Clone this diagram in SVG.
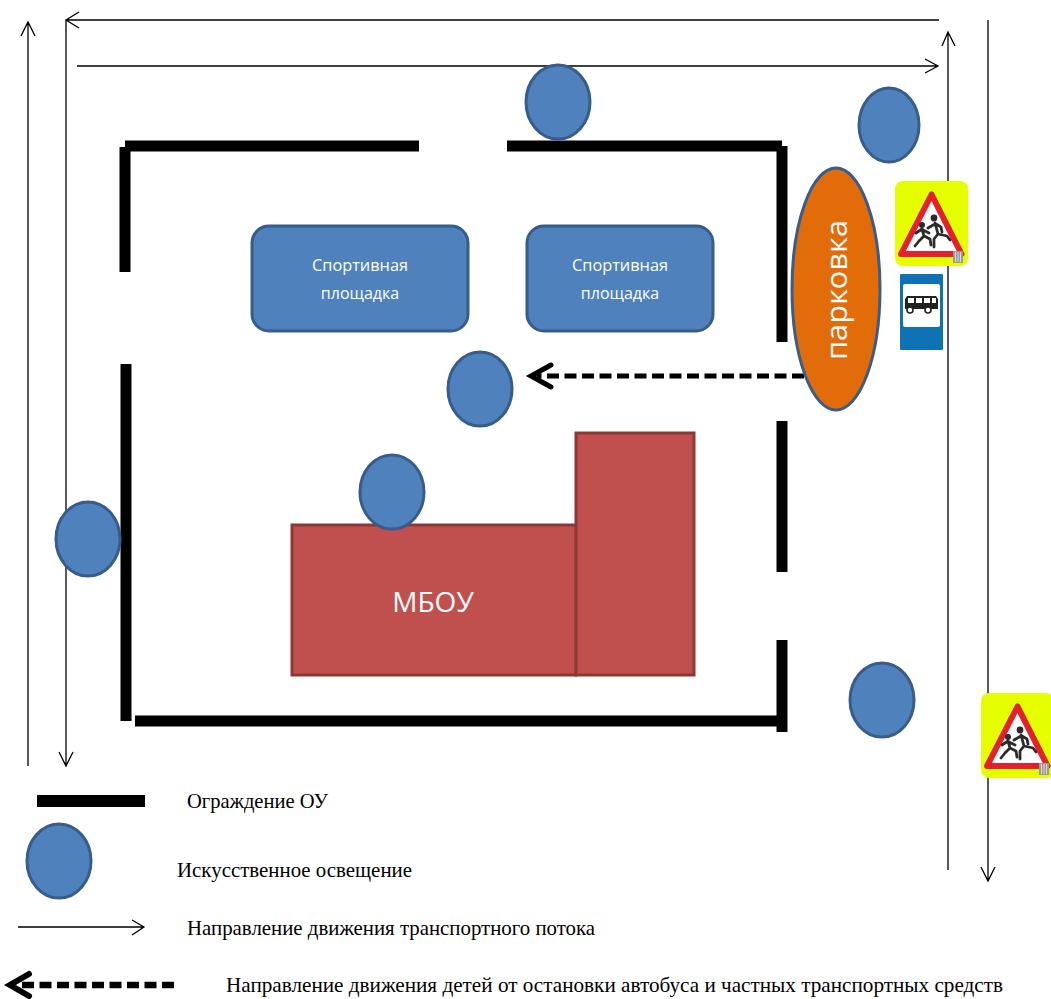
<svg xmlns="http://www.w3.org/2000/svg" width="1051" height="999" viewBox="0 0 1051 999">
<style>
.fence{stroke:#000;stroke-width:11;fill:none}
.lamp{fill:#4f81bd;stroke:#385d8a;stroke-width:3}
.road{stroke:#000;stroke-width:1.3;fill:none}
.dash{stroke:#000;stroke-width:5;fill:none;stroke-dasharray:12 5.5}
.dhead{stroke:#000;stroke-width:5;fill:none;stroke-linecap:round;stroke-linejoin:miter}
.court{fill:#4f81bd;stroke:#385d8a;stroke-width:3}
.bld{fill:#c0504d;stroke:#8c3836;stroke-width:3}
.wt{font-family:"Open Sans","Noto Sans",sans-serif;fill:#fff;text-anchor:middle}
.lg{font-family:"Liberation Serif",serif;font-size:21px;fill:#000}
.yl{fill:#e5ff00}
.tri{fill:#fff;stroke:#e3202c;stroke-linejoin:round;stroke-width:6}
.fig{fill:#2b2b2b}
.figl{stroke:#2b2b2b;stroke-width:2.800;fill:none;stroke-linecap:round;stroke-linejoin:round}
</style>
<defs>
<g id="runner">
<rect class="yl" x="0" y="0" width="73" height="85" rx="8"/>
<path class="tri" d="M36.500 13.500 L66.500 73 H6 Z"/>
<circle class="fig" cx="39" cy="37" r="3.400"/>
<circle class="fig" cx="27" cy="44" r="3"/>
<path class="figl" d="M40 42 L43 53 L52 55 L55 59 M43 53 L39 58 L39 66 M40 43 L33 47 M41 43 L46 46 L47 51"/>
<path class="figl" d="M27 48 L29 55 L35 58 L36 64 M29 55 L24 60 L20 65 M27 48 L21 52 M28 49 L34 52"/>
<rect x="58" y="70" width="10" height="12" fill="#9a9a9a"/>
<path d="M60.500 71V81M63 71V81M65.500 71V81" stroke="#eee" stroke-width="0.800"/>
</g>
</defs>

<g id="connectors">
<path class="road" d="M28 766V22M21 36L28 22L35 36"/>
<path class="road" d="M939 20H66V766M79 12L66 20L79 28M59 752L66 766L73 752"/>
<path class="road" d="M77 66H938M925 59L938 66L925 73"/>
<path class="road" d="M948 870V32M942 46L948 32L955 46"/>
<path class="road" d="M988 20V881M981 867L988 881L995 867"/>
<path class="dash" d="M804 376H537"/>
<path class="dhead" d="M551 365L531 376L551 387"/>
</g>

<g id="fence">
<path class="fence" d="M125 146H419"/>
<path class="fence" d="M507 146H782"/>
<path class="fence" d="M125 147V272"/>
<path class="fence" d="M126 364V721"/>
<path class="fence" d="M135 721H782"/>
<path class="fence" d="M782 146V342"/>
<path class="fence" d="M782 421V572"/>
<path class="fence" d="M782 640V732"/>
</g>

<g id="court1"><rect class="court" x="252" y="226" width="216" height="105" rx="17"/>
<text class="wt" font-size="16" x="360" y="271" textLength="96" lengthAdjust="spacingAndGlyphs">Спортивная</text><text class="wt" font-size="16" x="360" y="299">площадка</text></g>
<g id="court2"><rect class="court" x="527" y="226" width="186" height="105" rx="17"/>
<text class="wt" font-size="16" x="620" y="271" textLength="96" lengthAdjust="spacingAndGlyphs">Спортивная</text><text class="wt" font-size="16" x="620" y="299">площадка</text></g>

<g id="school">
<rect class="bld" x="292" y="525" width="284" height="150"/>
<rect class="bld" x="576" y="433" width="118" height="242"/>
<text class="wt" font-size="28" x="433" y="612">МБОУ</text>
</g>

<g id="parking"><ellipse cx="836" cy="289" rx="44" ry="121" fill="#e36c0a" stroke="#385d8a" stroke-width="3"/>
<text class="wt" font-size="29" textLength="140" lengthAdjust="spacingAndGlyphs" transform="translate(847 290) rotate(-90)">парковка</text></g>

<g id="lamps">
<ellipse class="lamp" cx="558" cy="102" rx="32" ry="37"/>
<ellipse class="lamp" cx="889" cy="125" rx="30" ry="37"/>
<ellipse class="lamp" cx="480" cy="389" rx="32" ry="37"/>
<ellipse class="lamp" cx="392" cy="492" rx="32" ry="37"/>
<ellipse class="lamp" cx="88" cy="539" rx="32" ry="37"/>
<ellipse class="lamp" cx="882" cy="700" rx="32" ry="37"/>
</g>

<g id="sign1"><use href="#runner" x="895" y="181"/></g>
<g id="sign2"><use href="#runner" x="981" y="693"/></g>
<g id="busstop">
<rect x="900" y="274" width="43" height="76" rx="1" fill="#0f72b5"/>
<rect x="903" y="284" width="37" height="43" rx="2" fill="#fff"/>
<path d="M907 296H936L938 299V309H905V299Z" fill="#222"/>
<path d="M908 298H914V303H908ZM916 298H922V303H916ZM924 298H930V303H924ZM932 298H936V303H932Z" fill="#fff"/>
<circle cx="910" cy="310" r="3" fill="#fff" stroke="#222" stroke-width="1.600"/>
<circle cx="928" cy="310" r="3" fill="#fff" stroke="#222" stroke-width="1.600"/>
</g>

<g id="legend">
<rect x="37" y="795" width="108" height="12"/>
<text class="lg" x="187" y="808" textLength="141" lengthAdjust="spacingAndGlyphs">Ограждение ОУ</text>
<ellipse class="lamp" cx="59" cy="861" rx="32" ry="37"/>
<text class="lg" x="177" y="877" textLength="235" lengthAdjust="spacingAndGlyphs">Искусственное освещение</text>
<path class="road" d="M18 927H144M132 920L144 927L132 935"/>
<text class="lg" x="187" y="935" textLength="408" lengthAdjust="spacingAndGlyphs">Направление движения транспортного потока</text>
<path class="dash" style="stroke-width:6.500" d="M174 985H22"/>
<path class="dhead" style="stroke-width:6" d="M29 974L10 985L29 996"/>
<text class="lg" x="226" y="992" textLength="777" lengthAdjust="spacingAndGlyphs">Направление движения детей от остановки автобуса и частных транспортных средств</text>
</g>
</svg>
